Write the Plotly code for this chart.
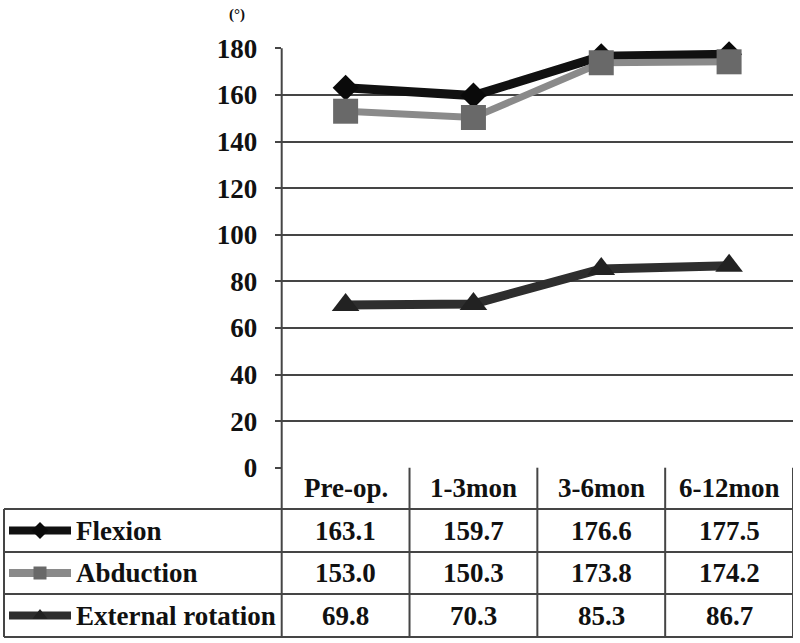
import plotly.graph_objects as go

categories = ["Pre-op.", "1-3mon", "3-6mon", "6-12mon"]
series_names = ["Flexion", "Abduction", "External rotation"]
flexion = [163.1, 159.7, 176.6, 177.5]
abduction = [153.0, 150.3, 173.8, 174.2]
external_rotation = [69.8, 70.3, 85.3, 86.7]
y_ticks = [0, 20, 40, 60, 80, 100, 120, 140, 160, 180]
unit_label = "(°)"

W, H = 800, 643
series_values = [flexion, abduction, external_rotation]
line_colors = ["#111111", "#8a8a8a", "#2e2e2e"]
marker_colors = ["#0a0a0a", "#696969", "#222222"]
symbols = ["diamond", "square", "triangle-up"]
msizes = [20, 25, 24]
lwidths = [9, 7, 9]

def py(p):
    return 1 - p / H

def px(p):
    return p / W

x_left, x_right = 281.7, 793
y_top, y_zero = 48.3, 467.7
row_edges = [467.7, 509, 552, 594, 637]
table_left = 4
grid = "#454545"
serif = "Liberation Serif, Times New Roman, DejaVu Serif, serif"
tfont = dict(family=serif, size=27, color="#111", weight=700)

fig = go.Figure()
for name, vals, lc, mc, sym, ms, lw in zip(series_names, series_values, line_colors, marker_colors, symbols, msizes, lwidths):
    fig.add_trace(go.Scatter(
        x=categories, y=vals, name=name, mode="lines+markers",
        line=dict(color=lc, width=lw),
        marker=dict(symbol=sym, size=ms, color=mc, line=dict(width=0)),
        showlegend=False, cliponaxis=False,
    ))

# legend icons inside the table, on a pixel-coordinate helper axis
for i, (name, lc, mc, sym) in enumerate(zip(series_names, line_colors, marker_colors, symbols)):
    cy = (row_edges[i + 1] + row_edges[i + 2]) / 2
    fig.add_trace(go.Scatter(
        x=[9, 40, 71], y=[cy, cy, cy], mode="lines",
        line=dict(color=lc, width=8), xaxis="x2", yaxis="y2", showlegend=False, hoverinfo="skip"))
    fig.add_trace(go.Scatter(
        x=[40], y=[cy], mode="markers",
        marker=dict(symbol=sym, size=13, color=mc), xaxis="x2", yaxis="y2", showlegend=False, hoverinfo="skip"))

shapes = []
for e in row_edges[1:]:
    shapes.append(dict(type="line", xref="paper", yref="paper", x0=px(table_left), x1=px(x_right),
                       y0=py(e), y1=py(e), line=dict(color=grid, width=2)))
shapes.append(dict(type="line", xref="paper", yref="paper", x0=px(table_left), x1=px(table_left),
                   y0=py(row_edges[1]), y1=py(row_edges[-1]), line=dict(color=grid, width=2)))
shapes.append(dict(type="line", xref="paper", yref="paper", x0=px(x_left), x1=px(x_left),
                   y0=py(y_top), y1=py(row_edges[-1]), line=dict(color=grid, width=2)))
for k in range(1, len(categories) + 1):
    shapes.append(dict(type="line", xref="x", yref="paper", x0=k - 0.5, x1=k - 0.5,
                       y0=py(row_edges[0]), y1=py(row_edges[-1]), line=dict(color=grid, width=2)))

annotations = []
hdr_y = py((row_edges[0] + row_edges[1]) / 2)
for c in categories:
    annotations.append(dict(x=c, y=hdr_y, xref="x", yref="paper", text=c, showarrow=False,
                            xanchor="center", yanchor="middle", font=tfont))
for i, (name, vals) in enumerate(zip(series_names, series_values)):
    ry = py((row_edges[i + 1] + row_edges[i + 2]) / 2)
    annotations.append(dict(x=px(74), y=ry, xref="paper", yref="paper", text=name, showarrow=False,
                            xanchor="left", yanchor="middle", font=tfont))
    for c, v in zip(categories, vals):
        annotations.append(dict(x=c, y=ry, xref="x", yref="paper", text=f"{v:.1f}", showarrow=False,
                                xanchor="center", yanchor="middle", font=tfont))
annotations.append(dict(x=px(237), y=py(15), xref="paper", yref="paper", text=unit_label, showarrow=False,
                        xanchor="center", yanchor="middle",
                        font=dict(family=serif, size=15, color="#111", weight=700)))

fig.update_layout(
    width=W, height=H, margin=dict(l=0, r=0, t=0, b=0, pad=0, autoexpand=False),
    paper_bgcolor="white", plot_bgcolor="rgba(0,0,0,0)",
    font=dict(family=serif),
    xaxis=dict(domain=[px(x_left), px(x_right)], type="category", range=[-0.5, len(categories) - 0.5],
               showticklabels=False, showgrid=False, zeroline=False, showline=False, ticks="", automargin=False),
    yaxis=dict(domain=[py(y_zero), py(y_top)], range=[0, 180], tickvals=y_ticks, automargin=False,
               showgrid=True, gridcolor=grid, gridwidth=2, zeroline=False, showline=False,
               ticks="outside", ticklen=6, tickcolor=grid, tickwidth=2, ticklabelstandoff=12,
               tickfont=tfont),
    xaxis2=dict(domain=[0, 1], range=[0, W], visible=False, anchor="y2", automargin=False),
    yaxis2=dict(domain=[0, 1], range=[H, 0], visible=False, anchor="x2", automargin=False),
    shapes=shapes, annotations=annotations,
)

fig.write_html("out.html")
